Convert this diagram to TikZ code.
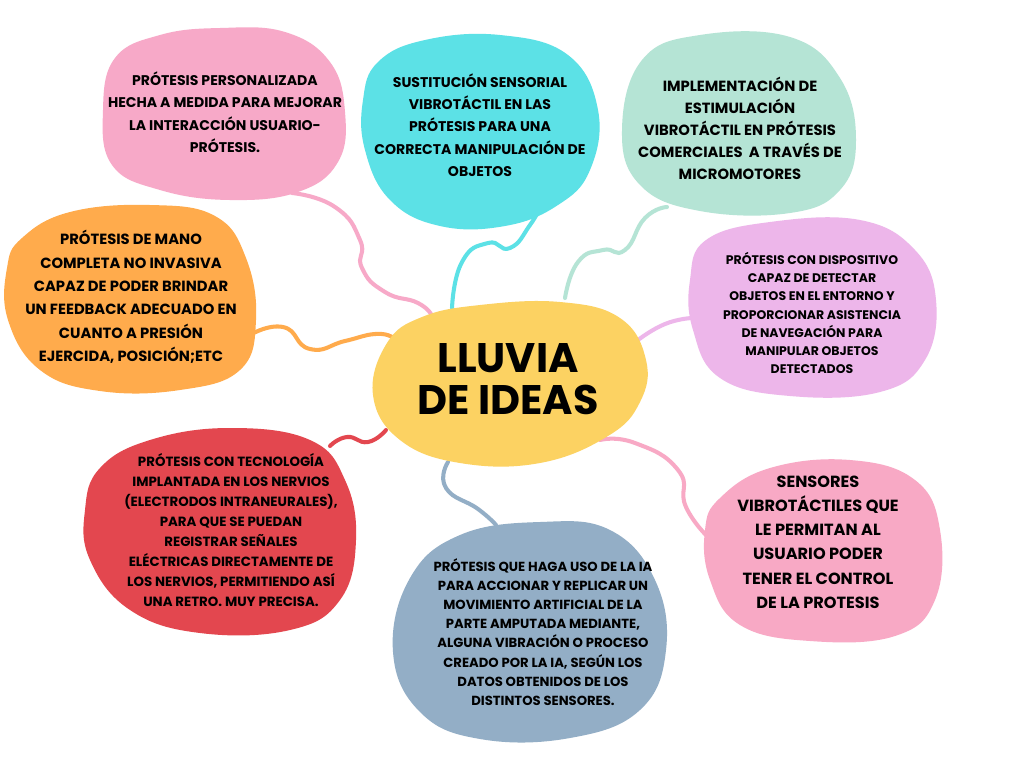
\documentclass[tikz,border=0pt]{standalone}
\usepackage{fontspec}
\setmainfont{Poppins}
\usepackage{tikz}
\usetikzlibrary{calc}
\definecolor{pinkA}{HTML}{F7A9C8}
\definecolor{cyanA}{HTML}{5CE1E6}
\definecolor{mintA}{HTML}{B5E4D5}
\definecolor{orangeA}{HTML}{FFAB4C}
\definecolor{lilacA}{HTML}{EDB6EA}
\definecolor{yellowA}{HTML}{FCD262}
\definecolor{redA}{HTML}{E3474F}
\definecolor{blueA}{HTML}{93AEC6}
\definecolor{pinkB}{HTML}{F8A9C5}

\begin{document}
\begin{tikzpicture}[x=0.02cm,y=-0.02cm,
  blob/.style={fill=#1,draw=none},
  wire/.style={draw=#1,line width=2.3pt,line cap=round},
  idea/.style 2 args={align=center,inner sep=0pt,text=black,
              font=\bfseries\fontsize{#1}{#2}\selectfont}]
  \useasboundingbox[fill=white] (0,0) rectangle (1024,768);
  % ends of the connectors
  \coordinate (p1-o) at (292,193);  \coordinate (p1-i) at (432,316);
  \coordinate (or-o) at (248,336);  \coordinate (or-i) at (392,337);
  \coordinate (cy-o) at (540,207);  \coordinate (cy-i) at (452,308);
  \coordinate (mi-o) at (667,207);  \coordinate (mi-i) at (565,298);
  \coordinate (li-o) at (692,318);  \coordinate (li-i) at (638,340);
  \coordinate (re-o) at (330,446);  \coordinate (re-i) at (386,430);
  \coordinate (bl-o) at (496,525);  \coordinate (bl-i) at (448,462);
  \coordinate (p2-o) at (709,538);  \coordinate (p2-i) at (600,440);
  % connectors
  \draw[wire=pinkA] plot[smooth,tension=0.9] coordinates {(p1-o) (335,207) (360,240) (362,268) (385,292) (418,303) (p1-i)};
  \draw[wire=orangeA] plot[smooth,tension=0.9] coordinates {(or-o) (283,327) (310,349) (345,341) (375,334) (or-i)};
  \draw[wire=cyanA] plot[smooth,tension=0.9] coordinates {(cy-i) (462,262) (488,243) (510,248) (530,225) (cy-o)};
  \draw[wire=mintA] plot[smooth,tension=0.9] coordinates {(mi-i) (578,262) (603,250) (625,250) (645,218) (mi-o)};
  \draw[wire=lilacA] plot[smooth,tension=0.9] coordinates {(li-i) (665,324) (li-o)};
  \draw[wire=redA] plot[smooth,tension=0.9] coordinates {(re-o) (347,437) (368,442) (re-i)};
  \draw[wire=blueA] plot[smooth,tension=0.9] coordinates {(bl-i) (446,488) (478,509) (bl-o)};
  \draw[wire=pinkB] plot[smooth,tension=0.9] coordinates {(p2-i) (635,443) (678,470) (686,507) (p2-o)};
  % blobs
  \fill[blob=pinkA] plot[smooth cycle,tension=0.7] coordinates {(115,58) (160,35) (220,28) (285,32) (330,62) (345,112) (338,162) (298,192) (230,200) (160,190) (112,165) (103,110)};
  \fill[blob=cyanA] plot[smooth cycle,tension=0.7] coordinates {(378,62) (425,40) (500,35) (568,55) (598,110) (590,170) (558,205) (505,226) (440,226) (390,200) (365,150) (363,100)};
  \fill[blob=mintA] plot[smooth cycle,tension=0.7] coordinates {(642,60) (700,35) (790,37) (840,78) (856,140) (840,190) (790,213) (700,211) (640,185) (622,130)};
  \fill[blob=orangeA] plot[smooth cycle,tension=0.7] coordinates {(22,238) (70,212) (150,205) (215,216) (246,258) (256,320) (240,370) (180,390) (100,391) (40,370) (8,320) (7,268)};
  \fill[blob=lilacA] plot[smooth cycle,tension=0.7] coordinates {(706,240) (770,222) (860,220) (915,250) (936,300) (925,360) (880,392) (790,396) (720,378) (693,330) (690,280)};
  \fill[blob=yellowA] plot[smooth cycle,tension=0.7] coordinates {(387,343) (422,317) (480,305) (560,302) (620,318) (646,360) (640,402) (608,436) (540,463) (460,463) (400,440) (373,395)};
  \fill[blob=redA] plot[smooth cycle,tension=0.7] coordinates {(100,468) (150,440) (230,428) (310,440) (345,480) (356,540) (340,600) (290,630) (200,633) (130,610) (90,560) (85,510)};
  \fill[blob=blueA] plot[smooth cycle,tension=0.7] coordinates {(410,578) (460,535) (540,522) (610,530) (655,580) (666,650) (640,710) (570,738) (480,739) (420,712) (393,652)};
  \fill[blob=pinkB] plot[smooth cycle,tension=0.7] coordinates {(720,498) (770,468) (850,460) (915,480) (940,530) (935,600) (895,636) (810,641) (740,625) (710,580) (705,530)};
  % texts
  \node[idea={8}{12.8}] (p1) at (225,112) {PRÓTESIS PERSONALIZADA\\HECHA A MEDIDA PARA MEJORAR\\LA INTERACCIÓN USUARIO-\\PRÓTESIS.};
  \node[idea={8}{12.7}] (cy) at (480,125) {SUSTITUCIÓN SENSORIAL\\VIBROTÁCTIL EN LAS\\PRÓTESIS PARA UNA\\CORRECTA MANIPULACIÓN DE\\OBJETOS};
  \node[idea={8.4}{12.5}] (mi) at (740,128) {IMPLEMENTACIÓN DE\\ESTIMULACIÓN\\VIBROTÁCTIL EN PRÓTESIS\\COMERCIALES \ A TRAVÉS DE\\MICROMOTORES};
  \node[idea={8.4}{13.3}] (or) at (131,297) {PRÓTESIS DE MANO\\COMPLETA NO INVASIVA\\CAPAZ DE PODER BRINDAR\\UN FEEDBACK ADECUADO EN\\CUANTO A PRESIÓN\\EJERCIDA, POSICIÓN;ETC};
  \node[idea={7.1}{10.4}] (li) at (812,313) {PRÓTESIS CON DISPOSITIVO\\CAPAZ DE DETECTAR\\OBJETOS EN EL ENTORNO Y\\PROPORCIONAR ASISTENCIA\\DE NAVEGACIÓN PARA\\MANIPULAR OBJETOS\\DETECTADOS};
  \node[idea={23.5}{23.5}] (ye) at (508,379) {LLUVIA\\DE IDEAS};
  \node[idea={7.6}{11.4}] (re) at (231,530) {PRÓTESIS CON TECNOLOGÍA\\IMPLANTADA EN LOS NERVIOS\\(ELECTRODOS INTRANEURALES),\\PARA QUE SE PUEDAN\\REGISTRAR SEÑALES\\ELÉCTRICAS DIRECTAMENTE DE\\LOS NERVIOS, PERMITIENDO ASÍ\\UNA RETRO. MUY PRECISA.};
  \node[idea={7.5}{10.9}] (bl) at (543,632) {PRÓTESIS QUE HAGA USO DE LA IA\\PARA ACCIONAR Y REPLICAR UN\\MOVIMIENTO ARTIFICIAL DE LA\\PARTE AMPUTADA MEDIANTE,\\ALGUNA VIBRACIÓN O PROCESO\\CREADO POR LA IA, SEGÚN LOS\\DATOS OBTENIDOS DE LOS\\DISTINTOS SENSORES.};
  \node[idea={9.2}{13.8}] (p2) at (818,542) {SENSORES\\VIBROTÁCTILES QUE\\LE PERMITAN AL\\USUARIO PODER\\TENER EL CONTROL\\DE LA PROTESIS};
\end{tikzpicture}
\end{document}
